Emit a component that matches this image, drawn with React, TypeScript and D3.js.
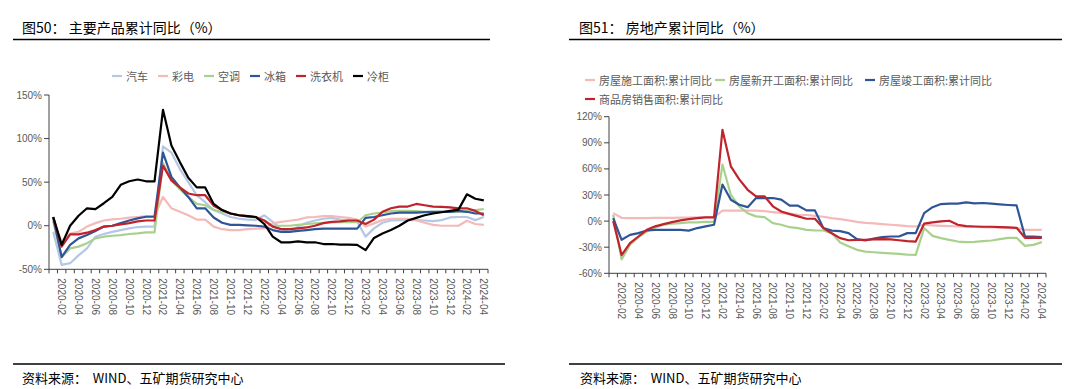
import * as d3 from "d3";

// 2020-01 .. 2024-04, monthly
const months: string[] = d3
  .timeMonths(new Date(2020, 0, 1), new Date(2024, 4, 1))
  .map(d3.timeFormat("%Y-%m"));

// 图50 主要产品累计同比
const qiche = [-7, -45, -43, -34, -26, -12.6, -9.5, -7, -5, -3, -1.5, -1, -1, 91, 84, 65, 50, 35, 27, 18, 14, 10, 8, 7, 6.4, 12, 4.5, -4, -7, -1, 3.4, 6, 8, 9, 7, 6.4, 4.5, -12.5, -3, 3.4, 6, 6.4, 6.4, 6.4, 6, 5.3, 6.4, 9.5, 10, 10, 6.4, 10];
const caidian = [5.7, -18, -9, -7, -1, 3, 6, 7.3, 8, 9.2, 10, 11, 11, 33, 20, 16, 12, 7, 7, -1, -4, -5, -5, -4, -3.4, -3, 2.7, 4.5, 5.7, 7, 9.5, 10, 11, 11, 10, 9, 7, -1, 2.7, 6.4, 8, 8, 8, 6.4, 3.4, 1, 0, 0, 0, 5.7, 2, 1];
const kongtiao = [5, -36, -26, -24, -20, -14.5, -12.6, -11.5, -10.7, -9.5, -8.8, -7.7, -7.7, 72, 52, 42, 33, 25, 23.5, 18, 16, 14, 12, 10, 9.5, 6, 0, 0, 0, 1, 2, 2.7, 3.4, 3.8, 4, 4, 4, 12, 14, 15, 16.7, 17, 17, 16.7, 16, 16, 16, 16, 16, 16.7, 18, 19];
const bingxiang = [9, -36, -22, -14.5, -10.7, -6, -1, 0, 3, 6, 8.4, 10.3, 10.3, 84, 56, 44, 33, 20, 20, 9.5, 3.4, 1, 1, 0.4, 0, -1, -5, -7, -7, -6, -5, -4, -3.4, -3.4, -3.4, -3.4, -3.4, 9, 10, 12, 14, 15, 15, 15, 15.5, 16, 16, 16, 17, 16, 14, 14];
const xiyiji = [10, -24, -10, -10, -8, -5, -1, 0, 1.5, 3, 5, 6, 6, 69, 52, 44, 37, 35, 35, 23, 18, 14, 12, 11, 10, 6, -1, -4, -4, -3, -2, 0, 3, 4.5, 5, 6, 6, 2, 7, 16, 20, 22, 22, 25, 23.5, 22, 21.6, 21, 20, 20, 17, 12];
const lenggui = [10, -22, 0, 11.5, 20, 19, 25.8, 33, 47, 51, 53, 51, 51, 133, 92, 73, 55, 44, 44, 25, 18, 14, 12, 11, 10, 2, -12.5, -19, -19, -18, -19, -19, -21, -21, -21.6, -21.6, -22, -28, -14, -9, -5, 0, 6, 9, 12, 14, 15.5, 17, 18.5, 36, 31, 29];

// 图51 房地产累计同比
const shigong = [9.2, 3.8, 3.5, 3.5, 3.5, 3.6, 3.7, 3.8, 3.9, 4, 4.2, 4.4, 4.6, 12, 12, 12, 12, 12, 11.5, 10.4, 9.2, 8.5, 7.3, 7, 6, 5, 3.5, 2.3, 0.8, -0.8, -2, -2.7, -3.5, -4.2, -5, -5.8, -6.2, -4.2, -5, -5.4, -5.8, -6.2, -6.5, -6.5, -7, -7.3, -7.3, -7.7, -8, -10, -10, -10];
const xinkaigong = [7.3, -44, -27, -18.5, -12, -7.3, -4.2, -3, -2.3, -1.5, -1.5, -0.8, -0.8, 65, 30, 17, 9, 5.4, 4.6, -2.3, -4.2, -7, -8, -10, -10.8, -10.8, -13.8, -24.6, -29, -33, -35, -35.8, -36.5, -37, -37.7, -38.5, -38.8, -8, -17, -19.6, -21.5, -23.5, -24.2, -23.8, -23, -22.3, -20.8, -19.2, -19.2, -28.5, -27.3, -24.2];
const jungong = [3.5, -21.5, -15.8, -13.8, -10.8, -10, -10, -10, -10, -11, -8, -6, -4.2, 42, 24.6, 18.8, 16, 26.5, 26.5, 26.5, 24.6, 17.7, 17.7, 12.3, 12.3, -8, -11, -11.5, -13.8, -20.8, -22.3, -20, -18.5, -17.7, -17.7, -13.8, -13.8, 9.2, 16, 19.6, 20, 20, 21.5, 20.4, 20.8, 20, 19.2, 18.5, 18, -17.7, -17.7, -18.5];
const xiaoshou = [0, -39, -25.4, -17.7, -10, -6, -3.5, -1.2, 0.8, 2.3, 3.5, 4.2, 4.2, 105, 63, 48, 36, 28.5, 28.5, 17, 11, 8, 5.4, 2.7, 2.7, -8, -14, -19.6, -22, -21.5, -21.5, -21, -20.8, -21, -22, -23, -23.5, -3, -1.5, -0.4, 0.4, -4.2, -5.8, -6.2, -6.5, -6.5, -7, -7.3, -7.7, -19.2, -19, -19.2];

const leftTicks = [-50, 0, 50, 100, 150];
const rightTicks = [-60, -30, 0, 30, 60, 90, 120];

type Series = { name: string; color: string; values: number[]; lx: number; ly: number };

const leftSeries: Series[] = [
  { name: "汽车", color: "#b4c7e7", values: qiche, lx: 112, ly: 76 },
  { name: "彩电", color: "#f4b9b9", values: caidian, lx: 158, ly: 76 },
  { name: "空调", color: "#a9d18e", values: kongtiao, lx: 204, ly: 76 },
  { name: "冰箱", color: "#2f5597", values: bingxiang, lx: 250, ly: 76 },
  { name: "洗衣机", color: "#c0232b", values: xiyiji, lx: 296, ly: 76 },
  { name: "冷柜", color: "#000000", values: lenggui, lx: 353, ly: 76 },
];

const rightSeries: Series[] = [
  { name: "房屋施工面积:累计同比", color: "#f4b9b9", values: shigong, lx: 585, ly: 80 },
  { name: "房屋新开工面积:累计同比", color: "#a9d18e", values: xinkaigong, lx: 715, ly: 80 },
  { name: "房屋竣工面积:累计同比", color: "#2f5597", values: jungong, lx: 865, ly: 80 },
  { name: "商品房销售面积:累计同比", color: "#c0232b", values: xiaoshou, lx: 585, ly: 99 },
];

const sans = "'Liberation Sans', Arial, sans-serif";
const cjk = "'Noto Sans CJK SC', sans-serif";

function Chart(props: {
  series: Series[];
  ticks: number[];
  x0: number;
  x1: number;
  yTop: number;
  yBot: number;
}) {
  const { series, ticks, x0, x1, yTop, yBot } = props;
  const x = d3.scaleBand<string>().domain(months).range([x0, x1]);
  const y = d3
    .scaleLinear()
    .domain([ticks[0], ticks[ticks.length - 1]])
    .range([yBot, yTop]);
  const bw = x.bandwidth();
  const line = d3
    .line<number>()
    .x((_, i) => (x(months[i]) as number) + bw / 2)
    .y((d) => y(d));

  return (
    <g>
      {/* legend */}
      {series.map((s) => (
        <g key={s.name}>
          <line x1={s.lx} x2={s.lx + 10} y1={s.ly} y2={s.ly} stroke={s.color} strokeWidth={2.2} />
          <text x={s.lx + 14} y={s.ly} dominantBaseline="central" fontSize={11} fill="#595959" fontFamily={cjk}>
            {s.name}
          </text>
        </g>
      ))}

      {/* y axis */}
      <line x1={x0} x2={x0} y1={yTop} y2={yBot} stroke="#404040" />
      {ticks.map((t) => (
        <g key={t}>
          <line x1={x0 - 5} x2={x0} y1={y(t)} y2={y(t)} stroke="#404040" />
          <text x={x0 - 7} y={y(t)} textAnchor="end" dominantBaseline="central" fontSize={10} fill="#595959" fontFamily={sans}>
            {t + "%"}
          </text>
        </g>
      ))}

      {/* x axis */}
      <line x1={x0} x2={x1} y1={yBot} y2={yBot} stroke="#404040" />
      {d3.range(months.length + 1).map((i) => (
        <line key={i} x1={x0 + i * bw} x2={x0 + i * bw} y1={yBot} y2={yBot + 4} stroke="#404040" />
      ))}
      {months.map((m, i) =>
        i % 2 === 1 ? (
          <text
            key={m}
            transform={`translate(${(x(m) as number) + bw / 2},${yBot + 9}) rotate(90)`}
            dominantBaseline="central"
            fontSize={10}
            fill="#595959"
            fontFamily={sans}
          >
            {m}
          </text>
        ) : null
      )}

      {/* lines */}
      {series.map((s) => (
        <path key={s.name} d={line(s.values) || ""} fill="none" stroke={s.color} strokeWidth={2.2} strokeLinejoin="round" />
      ))}
    </g>
  );
}

export default function App() {
  return (
    <svg
      width={1080}
      height={389}
      style={{ position: "absolute", left: 0, top: 0, background: "#fff" }}
    >
      <rect width={1080} height={389} fill="#fff" />

      {/* left panel */}
      <text x={22} y={33} fontSize={14} fontFamily={cjk} fill="#000">
        图50：  主要产品累计同比（%）
      </text>
      <line x1={13} x2={490} y1={39.5} y2={39.5} stroke="#000" strokeWidth={1.5} />
      <Chart series={leftSeries} ticks={leftTicks} x0={49} x1={488} yTop={95} yBot={269.3} />
      <line x1={13} x2={505} y1={364} y2={364} stroke="#000" strokeWidth={1.5} />
      <text x={22} y={383} fontSize={13} fontFamily={cjk} fill="#000" style={{ whiteSpace: "pre" }}>
        资料来源：  WIND、五矿期货研究中心
      </text>

      {/* right panel */}
      <text x={579} y={33} fontSize={14} fontFamily={cjk} fill="#000">
        图51：  房地产累计同比（%）
      </text>
      <line x1={569} x2={1062} y1={39.5} y2={39.5} stroke="#000" strokeWidth={1.5} />
      <Chart series={rightSeries} ticks={rightTicks} x0={609} x1={1046} yTop={116.7} yBot={273.3} />
      <line x1={569} x2={1062} y1={364} y2={364} stroke="#000" strokeWidth={1.5} />
      <text x={580} y={383} fontSize={13} fontFamily={cjk} fill="#000" style={{ whiteSpace: "pre" }}>
        资料来源：  WIND、五矿期货研究中心
      </text>
    </svg>
  );
}
